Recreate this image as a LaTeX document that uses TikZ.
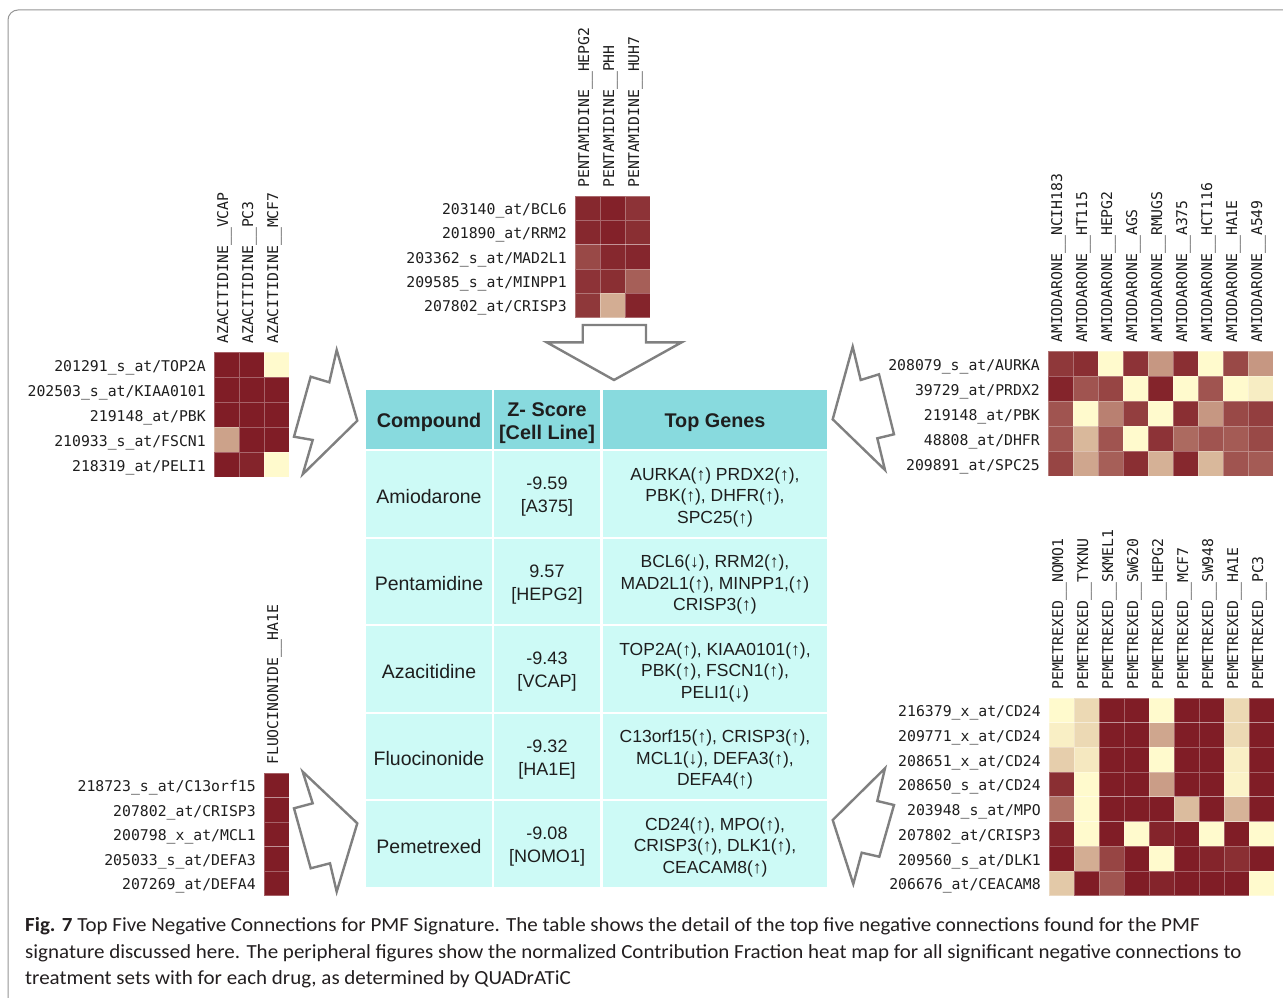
\documentclass[tikz,border=0pt]{standalone}
\usepackage{fontspec}
\setmainfont{Liberation Sans}
\newfontfamily\monof{DejaVu Sans Mono}
\newfontfamily\capf{Carlito}
\definecolor{hmdark}{RGB}{128,29,38}
\definecolor{hmlight}{RGB}{255,250,205}
\definecolor{hdrc}{RGB}{136,218,222}
\definecolor{bodyc}{RGB}{205,250,246}
\definecolor{arrc}{RGB}{128,128,128}
\definecolor{framec}{RGB}{150,150,150}
\definecolor{txtc}{RGB}{30,30,30}
\definecolor{capc}{RGB}{35,31,32}
\tikzset{
  collab/.style={anchor=base west, rotate=90, inner sep=0pt, text=txtc,
    font=\monof\fontsize{14.8}{16}\selectfont},
  rowlab/.style={anchor=base east, inner sep=0pt, text=txtc,
    font=\monof\fontsize{14.8}{16}\selectfont},
  hmcell/.style={draw=white, draw opacity=0.3, line width=0.7pt},
  blockarrow/.style={draw=arrc, fill=white, line width=2.4pt, line join=miter},
  tcell/.style={inner sep=0pt, text=txtc, align=center},
  hdrtxt/.style={tcell, font=\bfseries\fontsize{19.8}{23}\selectfont},
  comptxt/.style={tcell, font=\fontsize{19.5}{23}\selectfont},
  ztxt/.style={tcell, font=\fontsize{18}{23}\selectfont},
  genetxt/.style={tcell, font=\fontsize{17.5}{21.5}\selectfont},
  capline/.style={anchor=base west, inner sep=0pt, text=capc,
    font=\capf\fontsize{20}{22}\selectfont}
}
% #1 name, #2 x0, #3 y0, #4 row height, #5 column labels, #6 row labels, #7 values
\newcommand\hmap[7]{%
  \foreach \row [count=\r from 0] in {#7} {
    \foreach \v [count=\c from 0] in \row {
      \filldraw[hmcell, fill=hmdark!\v!hmlight] ({#2+25*\c},{#3+#4*\r}) rectangle ++(25,#4);
    }
  }
  \foreach \lab [count=\c from 0] in {#5} {
    \node[collab] (#1c\c) at ({#2+25*\c+14},{#3-8}) {\lab};
  }
  \foreach \lab [count=\r from 0] in {#6} {
    \node[rowlab] (#1r\r) at ({#2-8},{#3+#4*\r+#4/2+6.5}) {\lab};
  }
}
\begin{document}
\begin{tikzpicture}[x=1pt,y=-1pt]
\useasboundingbox (0,0) rectangle (1283,998);
\fill[white] (0,0) rectangle (1283,998);
% frame
\draw[framec, line width=1pt, rounded corners=10pt] (1300,10) -- (8,10) -- (8,1010);

% ---------- heat maps ----------
\hmap{pent}{575}{196}{24.3}
  {PENTAMIDINE\_\_HEPG2,PENTAMIDINE\_\_PHH,PENTAMIDINE\_\_HUH7}
  {203140\_at/BCL6,201890\_at/RRM2,203362\_s\_at/MAD2L1,209585\_s\_at/MINPP1,207802\_at/CRISP3}
  {{95,98,90},{95,98,92},{80,95,96},{90,92,70},{88,35,97}}

\hmap{aza}{214}{352}{25}
  {AZACITIDINE\_\_VCAP,AZACITIDINE\_\_PC3,AZACITIDINE\_\_MCF7}
  {201291\_s\_at/TOP2A,202503\_s\_at/KIAA0101,219148\_at/PBK,210933\_s\_at/FSCN1,218319\_at/PELI1}
  {{100,100,0},{100,100,100},{100,100,100},{40,100,100},{100,97,0}}

\hmap{amio}{1048}{351}{25}
  {AMIODARONE\_\_NCIH183,AMIODARONE\_\_HT115,AMIODARONE\_\_HEPG2,AMIODARONE\_\_AGS,AMIODARONE\_\_RMUGS,AMIODARONE\_\_A375,AMIODARONE\_\_HCT116,AMIODARONE\_\_HA1E,AMIODARONE\_\_A549}
  {208079\_s\_at/AURKA,39729\_at/PRDX2,219148\_at/PBK,48808\_at/DHFR,209891\_at/SPC25}
  {{88,92,0,90,45,92,0,80,45},{97,75,82,0,97,0,75,0,6},{75,0,55,85,0,92,45,80,85},{75,30,75,0,90,65,75,72,80},{82,38,70,92,33,95,30,75,72}}

\hmap{peme}{1049}{698}{24.7}
  {PEMETREXED\_\_NOMO1,PEMETREXED\_\_TYKNU,PEMETREXED\_\_SKMEL1,PEMETREXED\_\_SW620,PEMETREXED\_\_HEPG2,PEMETREXED\_\_MCF7,PEMETREXED\_\_SW948,PEMETREXED\_\_HA1E,PEMETREXED\_\_PC3}
  {216379\_x\_at/CD24,209771\_x\_at/CD24,208651\_x\_at/CD24,208650\_s\_at/CD24,203948\_s\_at/MPO,207802\_at/CRISP3,209560\_s\_at/DLK1,206676\_at/CEACAM8}
  {{0,15,100,100,0,100,100,15,100},{5,15,100,100,38,100,100,15,100},{20,8,100,100,0,100,100,5,100},{92,0,100,100,42,100,100,3,100},{62,0,100,100,100,28,100,32,100},{97,0,100,0,97,100,0,100,0},{100,35,82,100,0,100,97,92,100},{22,100,75,100,97,100,100,100,0}}

\hmap{fluo}{264}{773}{24.5}
  {FLUOCINONIDE\_\_HA1E}
  {218723\_s\_at/C13orf15,207802\_at/CRISP3,200798\_x\_at/MCL1,205033\_s\_at/DEFA3,207269\_at/DEFA4}
  {{100},{100},{100},{100},{100}}

% ---------- block arrows ----------
\draw[blockarrow] (582.7,325) -- (646,325) -- (646,342.3) -- (681.7,342.3) -- (614,380)
  -- (546.7,342.3) -- (582.7,342.3) -- cycle;
\draw[blockarrow] (357.3,420.7) -- (336.7,350) -- (329.3,382.3) -- (310.7,376.7)
  -- (294,436.7) -- (312.7,440) -- (302.7,474.3) -- cycle;
\draw[blockarrow] (832.7,419.3) -- (852.7,346.7) -- (860.7,380) -- (879,374.3)
  -- (894,434.3) -- (877.3,438.3) -- (885,470) -- cycle;
\draw[blockarrow] (302.7,771.7) -- (357.3,823.3) -- (336.7,891.7) -- (330,863.3)
  -- (310.7,868.3) -- (294,808.3) -- (312.7,803.3) -- cycle;
\draw[blockarrow] (885,768.3) -- (877.3,801) -- (894,805) -- (879.3,856.7)
  -- (861.7,852.7) -- (853.3,884) -- (832.7,820) -- cycle;

% ---------- table backgrounds ----------
\fill[hdrc] (366,390) rectangle (492,449);
\fill[hdrc] (494,390) rectangle (600,449);
\fill[hdrc] (603,390) rectangle (827,449);
\foreach \ya/\yb in {451/537,539/624,626/712,714/799,801/887} {
  \fill[bodyc] (366,\ya) rectangle (492,\yb);
  \fill[bodyc] (494,\ya) rectangle (600,\yb);
  \fill[bodyc] (603,\ya) rectangle (827,\yb);
}

% ---------- table text ----------
\node[hdrtxt] (h1) at (429,422.5) {Compound};
\node[hdrtxt] (h2) at (547,423) {Z- Score\\{[Cell Line]}};
\node[hdrtxt] (h3) at (715,422.5) {Top Genes};

\node[comptxt] (c1) at (429,496.5) {Amiodarone};
\node[ztxt] (z1) at (547,497) {-9.59\\{[A375]}};
\node[genetxt] (g1) at (715,497) {AURKA(↑) PRDX2(↑),\\PBK(↑), DHFR(↑),\\SPC25(↑)};

\node[comptxt] (c2) at (429,584) {Pentamidine};
\node[ztxt] (z2) at (547,584.5) {9.57\\{[HEPG2]}};
\node[genetxt] (g2) at (715,584.5) {BCL6(↓), RRM2(↑),\\MAD2L1(↑), MINPP1,(↑)\\CRISP3(↑)};

\node[comptxt] (c3) at (429,671.5) {Azacitidine};
\node[ztxt] (z3) at (547,672) {-9.43\\{[VCAP]}};
\node[genetxt] (g3) at (715,672) {TOP2A(↑), KIAA0101(↑),\\PBK(↑), FSCN1(↑),\\PELI1(↓)};

\node[comptxt] (c4) at (429,759) {Fluocinonide};
\node[ztxt] (z4) at (547,759.5) {-9.32\\{[HA1E]}};
\node[genetxt] (g4) at (715,759.5) {C13orf15(↑), CRISP3(↑),\\MCL1(↓), DEFA3(↑),\\DEFA4(↑)};

\node[comptxt] (c5) at (429,846.5) {Pemetrexed};
\node[ztxt] (z5) at (547,847) {-9.08\\{[NOMO1]}};
\node[genetxt] (g5) at (715,847) {CD24(↑), MPO(↑),\\CRISP3(↑), DLK1(↑),\\CEACAM8(↑)};

% ---------- caption ----------
\node[capline] (cap1) at (25,931) {\scalebox{1.05}[1]{\textbf{Fig. 7} Top Five Negative Connections for PMF Signature. The table shows the detail of the top five negative connections found for the PMF}};
\node[capline] (cap2) at (25,958) {\scalebox{1.05}[1]{signature discussed here. The peripheral figures show the normalized Contribution Fraction heat map for all significant negative connections to}};
\node[capline] (cap3) at (25,984) {\scalebox{1.05}[1]{treatment sets with for each drug, as determined by QUADrATiC}};
\end{tikzpicture}
\end{document}
